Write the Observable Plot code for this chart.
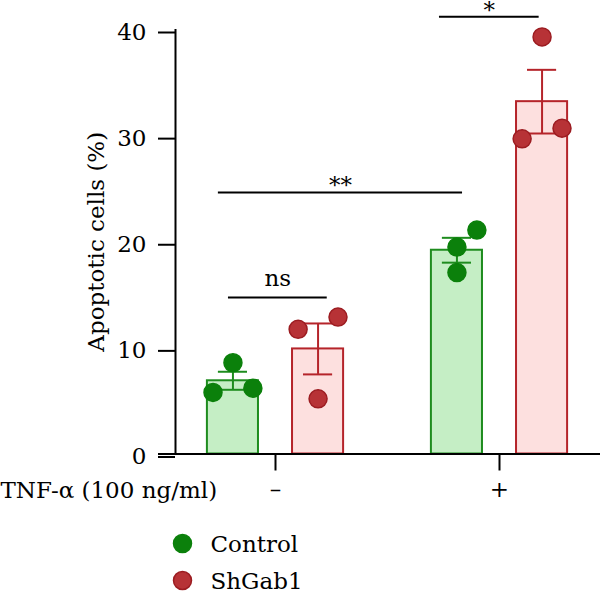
<!DOCTYPE html>
<html>
<head>
<meta charset="utf-8">
<script src="https://cdn.jsdelivr.net/npm/d3@7"></script>
<script src="https://cdn.jsdelivr.net/npm/@observablehq/plot@0.6"></script>
<style>
  html, body { margin: 0; padding: 0; background: #fff; }
</style>
</head>
<body>
<div id="chart"></div>
<script>
// ---- data ----
const tnf = ["–", "+"];                 // TNF-α (100 ng/ml) groups
const groups = ["Control", "ShGab1"];
const controlMean = [6.9, 19.2];
const controlSem = [0.85, 1.17];
const shgabMean = [9.9, 33.2];
const shgabSem = [2.4, 3.0];
const controlPoints = [[5.8, 8.6, 6.2], [17.1, 19.5, 21.1]];
const shgabPoints = [[11.75, 5.2, 12.9], [29.7, 39.3, 30.7]];
const controlSlots = [[-1, 0, 1], [0, 0, 1]];   // beeswarm column of each replicate
const shgabSlots = [[-1, 0, 1], [-1, 0, 1]];
const yTicks = [0, 10, 20, 30, 40];
const bracketLabels = ["ns", "**", "*"];
const bracketY = [14.75, 24.65, 41.2];
const bracketFrom = [-0.21, -0.255, 0.732];
const bracketTo = [0.231, 0.835, 1.177];
const xLabel = "TNF-α (100 ng/ml)";
const yLabel = "Apoptotic cells (%)";

// ---- build tables ----
const means = {Control: controlMean, ShGab1: shgabMean};
const sems = {Control: controlSem, ShGab1: shgabSem};
const pts = {Control: controlPoints, ShGab1: shgabPoints};
const slots = {Control: controlSlots, ShGab1: shgabSlots};
const seriesOffset = {Control: -0.19, ShGab1: 0.19};
const halfBar = 0.114, halfCap = 0.065, jitter = 0.089;

const bars = [];
const points = [];
tnf.forEach((t, gi) => groups.forEach(g => {
  const center = gi + seriesOffset[g];
  bars.push({group: g, center, mean: means[g][gi], sem: sems[g][gi]});
  pts[g][gi].forEach((v, k) => points.push({group: g, x: center + slots[g][gi][k] * jitter, value: v}));
}));
const caps = bars.flatMap(b => [
  {group: b.group, center: b.center, y: b.mean + b.sem},
  {group: b.group, center: b.center, y: b.mean - b.sem}
]);
const brackets = bracketLabels.map((label, i) => ({label, y: bracketY[i], x1: bracketFrom[i], x2: bracketTo[i]}));

const look = {
  Control: {fill: "#c5eec5", stroke: "#1e8c1e", dot: "#0b800b", dotStroke: "#0b800b"},
  ShGab1: {fill: "#fde0df", stroke: "#b5242a", dot: "#b73236", dotStroke: "#9c1c21"}
};

const xDomain = [-0.44643, 1.45089];

const marks = [];
for (const g of groups) {
  const L = look[g];
  marks.push(Plot.rect(bars.filter(d => d.group === g), {
    x1: d => d.center - halfBar, x2: d => d.center + halfBar, y1: 0, y2: "mean",
    fill: L.fill, stroke: L.stroke, strokeWidth: 2
  }));
}
for (const g of groups) {
  const L = look[g];
  marks.push(Plot.ruleX(bars.filter(d => d.group === g), {
    x: "center", y1: d => d.mean - d.sem, y2: d => d.mean + d.sem, stroke: L.stroke, strokeWidth: 2
  }));
  marks.push(Plot.ruleY(caps.filter(d => d.group === g), {
    y: "y", x1: d => d.center - halfCap, x2: d => d.center + halfCap, stroke: L.stroke, strokeWidth: 2
  }));
}
for (const g of groups) {
  const L = look[g];
  marks.push(Plot.dot(points.filter(d => d.group === g), {
    x: "x", y: "value", r: 9, fill: L.dot, stroke: L.dotStroke, strokeWidth: 1.5
  }));
}
// axes
marks.push(Plot.ruleY([0], {insetLeft: -17, strokeWidth: 2, stroke: "#000"}));
marks.push(Plot.ruleX([xDomain[0]], {y1: 0, y2: 40, strokeWidth: 2, stroke: "#000"}));
marks.push(Plot.axisY(yTicks, {tickSize: 17, tickPadding: 12, strokeWidth: 2, label: null, dy: 3}));
marks.push(Plot.axisX([0, 1], {tickFormat: i => tnf[i], tickSize: 17, tickPadding: 10, strokeWidth: 2, label: null}));
// significance brackets
marks.push(Plot.ruleY(brackets, {y: "y", x1: "x1", x2: "x2", strokeWidth: 2, stroke: "#000"}));
marks.push(Plot.text(brackets.filter(d => d.label === "ns"), {
  x: d => (d.x1 + d.x2) / 2, y: "y", text: "label", lineAnchor: "bottom", dy: -11
}));
marks.push(Plot.text(brackets.filter(d => d.label !== "ns"), {
  x: d => (d.x1 + d.x2) / 2, y: "y", text: "label", lineAnchor: "bottom", dy: 1, fontSize: 23
}));
// axis titles
marks.push(Plot.text([yLabel], {text: d => d, frameAnchor: "left", rotate: -90, dx: -72, textAnchor: "middle", lineAnchor: "bottom"}));
marks.push(Plot.text([xLabel], {text: d => d, frameAnchor: "bottom-left", dx: -175, dy: 43.5, textAnchor: "start", lineAnchor: "bottom"}));
// legend
groups.forEach((g, i) => {
  marks.push(Plot.dot([g], {frameAnchor: "bottom-left", dx: 7, dy: 89.5 + i * 37, r: 9, fill: look[g].dot, stroke: look[g].dotStroke, strokeWidth: 1.5}));
  marks.push(Plot.text([g], {text: d => d, frameAnchor: "bottom-left", dx: 35, dy: 90.5 + i * 37, textAnchor: "start", lineAnchor: "middle"}));
});

const chart = Plot.plot({
  width: 600,
  height: 592,
  marginLeft: 175,
  marginRight: 0,
  marginTop: 29,
  marginBottom: 138.5,
  x: {domain: xDomain},
  y: {domain: [0, 40]},
  style: {fontFamily: "DejaVu Serif", fontSize: "23px", color: "#000", background: "#fff", overflow: "visible"},
  marks
});
document.getElementById("chart").appendChild(chart);
</script>
</body>
</html>
